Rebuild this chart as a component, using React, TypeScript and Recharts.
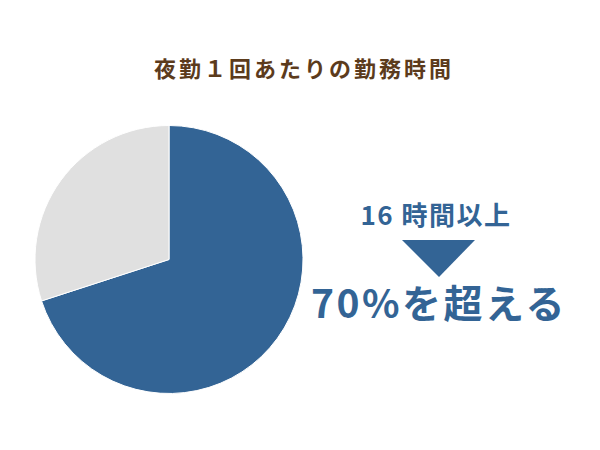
import { PieChart, Pie, Cell } from 'recharts';

const categories = ['16時間以上', '16時間未満'];
const shares = [70, 30];
const sliceColors = ['#336495', '#e0e0e0'];

const titleText = '夜勤１回あたりの勤務時間';
const calloutTop = '16 時間以上';
const calloutBottom = '70%を超える';

const chartData = categories.map((name, i) => ({ name, value: shares[i] }));

const FONT = '"Noto Sans CJK JP", "Noto Sans", sans-serif';

if (typeof document !== 'undefined') {
    document.body.style.margin = '0';
}

export default function App() {
    return (
        <div style={{ position: 'relative', width: 600, height: 450, background: '#fff', fontFamily: FONT }}>
            <div
                style={{
                    position: 'absolute',
                    left: 4,
                    top: 52,
                    width: 600,
                    textAlign: 'center',
                    fontSize: 22,
                    fontWeight: 700,
                    letterSpacing: 3,
                    color: '#5c3b1c',
                    lineHeight: '30px'
                }}
            >
                {titleText}
            </div>
            <PieChart
                width={600}
                height={450}
                margin={{ top: 0, right: 0, bottom: 0, left: 0 }}
                style={{ position: 'absolute', left: 0, top: 0 }}
            >
                <Pie
                    data={chartData}
                    dataKey="value"
                    cx={169}
                    cy={259.5}
                    outerRadius={134}
                    startAngle={90}
                    endAngle={-270}
                    stroke="#ffffff"
                    strokeWidth={1}
                    isAnimationActive={false}
                >
                    {chartData.map((entry, index) => (
                        <Cell key={`cell-${index}`} fill={sliceColors[index]} />
                    ))}
                </Pie>
            </PieChart>
            <div
                style={{
                    position: 'absolute',
                    left: 286,
                    top: 195,
                    width: 300,
                    textAlign: 'center',
                    fontSize: 26,
                    fontWeight: 700,
                    letterSpacing: 1.5,
                    color: '#336495',
                    lineHeight: '38px'
                }}
            >
                {calloutTop}
            </div>
            <svg width={600} height={450} style={{ position: 'absolute', left: 0, top: 0, pointerEvents: 'none' }}>
                <polygon points="402,240 475,240 439,277" fill="#336495" />
            </svg>
            <div
                style={{
                    position: 'absolute',
                    left: 289,
                    top: 275,
                    width: 300,
                    textAlign: 'center',
                    fontSize: 39,
                    fontWeight: 700,
                    letterSpacing: 2.5,
                    color: '#336495',
                    lineHeight: '52px'
                }}
            >
                {calloutBottom}
            </div>
        </div>
    );
}
